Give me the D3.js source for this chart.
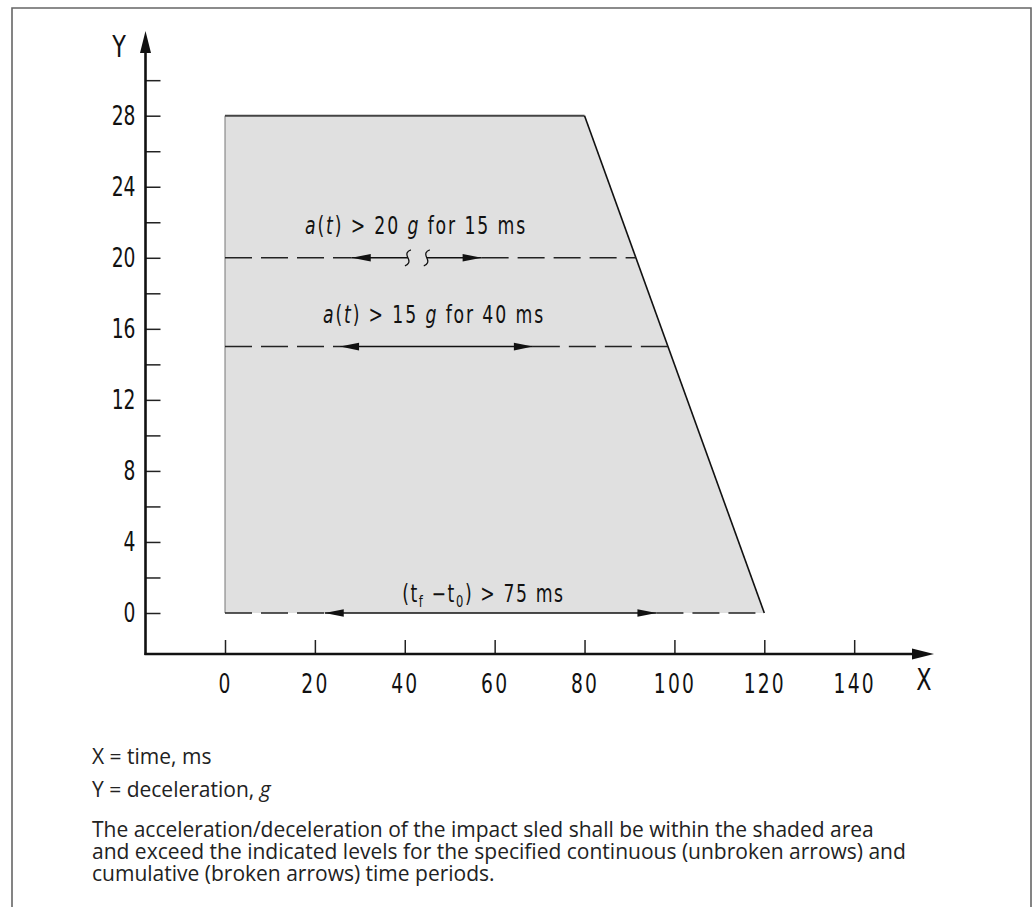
<!DOCTYPE html>
<html><head><meta charset="utf-8">
<script src="https://cdn.jsdelivr.net/npm/d3@7"></script>
<style>
body{margin:0;background:#fff}
.tech{font-family:"DejaVu Sans",sans-serif;font-weight:400}
.note{font-family:"Open Sans","Noto Sans",sans-serif;fill:#222}
</style>
</head><body>
<svg id="c" width="1036" height="907"></svg>
<script>
// ---- data ----
const xTicks = [0, 20, 40, 60, 80, 100, 120, 140];
const yTicks = [0, 2, 4, 6, 8, 10, 12, 14, 16, 18, 20, 22, 24, 26, 28, 30];
const yLabelled = [0, 4, 8, 12, 16, 20, 24, 28];
const envelopeX = [0, 0, 80, 120];   // ms
const envelopeY = [0, 28, 28, 0];    // g
const levels = [20, 15, 0];          // g
const arrowFrom = [28.2, 25.6, 22.2]; // ms
const arrowTo = [57.1, 68.5, 96.0];   // ms
const breakFrom = [40.7, null, null];
const breakTo = [44.9, null, null];
const levelLabelCenters = [42.5, 46.5, 57.5]; // ms
const legendLines = ["X = time, ms", "Y = deceleration, "];
const noteLines = [
  "The acceleration/deceleration of the impact sled shall be within the shaded area",
  "and exceed the indicated levels for the specified continuous (unbroken arrows) and",
  "cumulative (broken arrows) time periods."
];

// ---- drawing ----
const svg = d3.select("#c");
const x = d3.scaleLinear().domain([0, 120]).range([225, 764.3]);
const y = d3.scaleLinear().domain([0, 28]).range([613, 115.7]);
const axisX = 145.5, axisY = 654;
const SX = 0.72; // condensing factor for the technical lettering

// frame
svg.append("path")
  .attr("d", `M12,907 V8 H1031 V907`)
  .attr("fill", "none").attr("stroke", "#666").attr("stroke-width", 1.6);

// envelope
const env = envelopeX.map((d, i) => [d, envelopeY[i]]);
svg.append("path")
  .attr("d", d3.line().x(d => x(d[0])).y(d => y(d[1]))(env) + "Z")
  .attr("fill", "#e0e0e0").attr("stroke", "none");
svg.append("line").attr("x1", x(0)).attr("x2", x(0)).attr("y1", y(0)).attr("y2", y(28))
  .attr("stroke", "#777").attr("stroke-width", 1);
svg.append("line").attr("x1", x(0)).attr("x2", x(80)).attr("y1", y(28)).attr("y2", y(28))
  .attr("stroke", "#444").attr("stroke-width", 2);
svg.append("line").attr("x1", x(80)).attr("x2", x(120)).attr("y1", y(28)).attr("y2", y(0))
  .attr("stroke", "#111").attr("stroke-width", 1.6);

function edgeAt(level) { return 80 + 40 * (28 - level) / 28; }

function arrowHead(g, px, py, dir) {
  const L = 19, H = 3.8;
  g.append("path")
    .attr("d", `M${px},${py} L${px - dir * L},${py - H} L${px - dir * L},${py + H}Z`)
    .attr("fill", "#111");
}

levels.forEach((lv, i) => {
  const g = svg.append("g");
  const py = y(lv);
  const dash = "27,9";
  g.append("line").attr("x1", x(0)).attr("x2", x(arrowFrom[i])).attr("y1", py).attr("y2", py)
    .attr("stroke", "#222").attr("stroke-width", 1.5).attr("stroke-dasharray", dash);
  g.append("line").attr("x1", x(arrowTo[i])).attr("x2", x(edgeAt(lv))).attr("y1", py).attr("y2", py)
    .attr("stroke", "#222").attr("stroke-width", 1.5).attr("stroke-dasharray", dash);
  if (breakFrom[i] != null) {
    g.append("line").attr("x1", x(arrowFrom[i])).attr("x2", x(breakFrom[i])).attr("y1", py).attr("y2", py)
      .attr("stroke", "#111").attr("stroke-width", 1.5);
    g.append("line").attr("x1", x(breakTo[i])).attr("x2", x(arrowTo[i])).attr("y1", py).attr("y2", py)
      .attr("stroke", "#111").attr("stroke-width", 1.5);
    [breakFrom[i], breakTo[i]].forEach(b => {
      const cx = x(b);
      g.append("path")
        .attr("d", `M${cx + 3},${py - 8} Q${cx - 3},${py - 6} ${cx},${py} Q${cx + 3},${py + 6} ${cx - 3},${py + 8}`)
        .attr("fill", "none").attr("stroke", "#111").attr("stroke-width", 1.3);
    });
  } else {
    g.append("line").attr("x1", x(arrowFrom[i])).attr("x2", x(arrowTo[i])).attr("y1", py).attr("y2", py)
      .attr("stroke", "#111").attr("stroke-width", 1.5);
  }
  arrowHead(g, x(arrowFrom[i]), py, -1);
  arrowHead(g, x(arrowTo[i]), py, 1);
});

// level labels (condensed technical lettering)
function techText(cx, cy, size, spacing) {
  return svg.append("g").attr("transform", `translate(${cx},${cy}) scale(${SX},1)`)
    .append("text").attr("class", "tech").attr("x", 0).attr("y", 0)
    .attr("text-anchor", "middle").attr("font-size", size).attr("letter-spacing", spacing)
    .attr("fill", "#111");
}
function labelA(lv, val, ms, i) {
  const t = techText(x(levelLabelCenters[i]), y(lv) - 24, 24, 2.6);
  t.append("tspan").attr("font-style", "italic").text("a");
  t.append("tspan").text("(");
  t.append("tspan").attr("font-style", "italic").text("t");
  t.append("tspan").text(`)  >  ${val}  `);
  t.append("tspan").attr("font-style", "italic").text("g");
  t.append("tspan").text(` for  ${ms}  ms`);
}
labelA(levels[0], "20", "15", 0);
labelA(levels[1], "15", "40", 1);
{
  const t = techText(x(levelLabelCenters[2]), y(levels[2]) - 11, 24, 2.2);
  t.append("tspan").text("(t");
  t.append("tspan").attr("font-size", 16).attr("dy", 5).text("f");
  t.append("tspan").attr("dy", -5).text("  \u2212t");
  t.append("tspan").attr("font-size", 16).attr("dy", 5).text("0");
  t.append("tspan").attr("dy", -5).text(")  >  75  ms");
}

// axes
function condense(sel) {
  sel.each(function () {
    const t = d3.select(this);
    const tx = +t.attr("x") || 0;
    t.attr("x", 0).attr("transform", `translate(${tx},0) scale(${SX},1)`);
  });
}
const yAxis = d3.axisLeft(y).tickValues(yTicks).tickSizeInner(-15).tickSizeOuter(0).tickPadding(10)
  .tickFormat(d => yLabelled.includes(d) ? d : "");
const gy = svg.append("g").attr("transform", `translate(${axisX},0)`).call(yAxis);
gy.select(".domain").remove();
gy.selectAll(".tick line").attr("stroke", "#222").attr("stroke-width", 1.5);
gy.selectAll(".tick text").attr("class", "tech").attr("font-size", 26).attr("fill", "#111")
  .attr("font-family", null).call(condense);

const xAxis = d3.axisBottom(x).tickValues(xTicks).tickSizeInner(-14).tickSizeOuter(0).tickPadding(21);
const gx = svg.append("g").attr("transform", `translate(0,${axisY})`).call(xAxis);
gx.select(".domain").remove();
gx.selectAll(".tick line").attr("stroke", "#222").attr("stroke-width", 1.5);
gx.selectAll(".tick text").attr("class", "tech").attr("font-size", 26).attr("fill", "#111")
  .attr("font-family", null).attr("letter-spacing", 3).call(condense);

// axis lines with arrows
svg.append("line").attr("x1", axisX).attr("x2", axisX).attr("y1", axisY + 1).attr("y2", 50)
  .attr("stroke", "#111").attr("stroke-width", 2.6);
svg.append("path").attr("d", `M${axisX},31 L${axisX - 5.5},53 L${axisX + 5.5},53Z`).attr("fill", "#111");
svg.append("line").attr("x1", axisX - 1).attr("x2", 915).attr("y1", axisY).attr("y2", axisY)
  .attr("stroke", "#111").attr("stroke-width", 2.6);
svg.append("path").attr("d", `M934,${axisY} L912,${axisY - 5.5} L912,${axisY + 5.5}Z`).attr("fill", "#111");

techText(119, 57, 31, 0).attr("font-weight", 200).text("Y");
techText(924, 690, 31, 0).attr("font-weight", 200).text("X");

// notes
const lx = 92, fs = 21;
svg.append("text").attr("class", "note").attr("x", lx).attr("y", 764).attr("font-size", fs).text(legendLines[0]);
const yl = svg.append("text").attr("class", "note").attr("x", lx).attr("y", 797).attr("font-size", fs);
yl.append("tspan").text(legendLines[1]);
yl.append("tspan").attr("font-style", "italic").text("g");
noteLines.forEach((s, i) => {
  svg.append("text").attr("class", "note").attr("x", lx).attr("y", 837 + i * 22).attr("font-size", fs).text(s);
});
</script>
</body></html>
